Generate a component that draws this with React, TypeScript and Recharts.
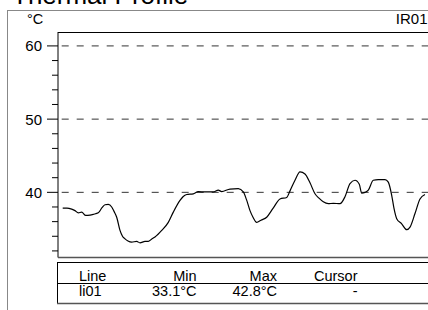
import React from "react";
import { LineChart, Line, XAxis, YAxis, ReferenceLine } from "recharts";

// Profile position (samples along line li01)
const pos = [4.7, 9, 13.7, 17, 20.3, 23.7, 27.7, 32, 35.3, 40.3, 44, 47, 50.3, 53.7, 56, 58.7, 62, 64.5, 67, 70, 73.7, 78.7, 82, 87, 90.3, 93.5, 97, 103.7, 110.3, 115.3, 122, 125, 128.7, 135.3, 140.3, 147, 155.3, 160.3, 163.7, 172, 180.3, 185.3, 188.5, 192, 195, 198.7, 203, 208.7, 215, 222, 228.7, 232, 237, 242, 247, 252, 257, 261, 265.3, 270.3, 275.3, 282, 287, 292, 297, 301.3, 303.7, 307, 310.3, 315.3, 320.3, 327, 330.3, 333.7, 336, 338.7, 343.7, 348.7, 352, 357, 362, 367];
// Temperature (°C)
const temp = [37.85, 37.85, 37.7, 37.5, 37.2, 37.3, 36.85, 36.9, 37.0, 37.2, 37.9, 38.3, 38.35, 38.0, 37.4, 36.6, 34.8, 34.0, 33.65, 33.35, 33.2, 33.3, 33.1, 33.3, 33.3, 33.6, 33.9, 34.8, 35.9, 37.3, 38.9, 39.4, 39.7, 39.8, 40.1, 40.05, 40.05, 40.3, 40.1, 40.45, 40.5, 40.05, 39.0, 37.5, 36.6, 35.9, 36.2, 36.6, 37.8, 39.1, 39.3, 40.2, 41.65, 42.8, 42.5, 41.3, 39.8, 39.2, 38.7, 38.45, 38.5, 38.45, 39.4, 41.2, 41.65, 41.1, 39.9, 40.0, 40.3, 41.65, 41.75, 41.75, 41.4, 39.6, 37.8, 36.4, 35.7, 34.9, 35.25, 37.1, 39.1, 39.7];

const yTicks = [32, 34, 36, 38, 40, 42, 44, 46, 48, 50, 52, 54, 56, 58, 60];
const majorTicks = [40, 50, 60];
const tableHeader = ["Line", "Min", "Max", "Cursor"];
const tableRow = ["li01", "33.1°C", "42.8°C", "-"];

const data = pos.map((p, i) => ({ pos: p, temp: temp[i] }));

const FONT = "'Liberation Sans', Arial, sans-serif";

const YTick = (props: any) => {
  const { x, y, payload } = props;
  const major = majorTicks.includes(payload.value);
  return (
    <g>
      <line x1={x - (major ? 11 : 6)} x2={x} y1={y} y2={y} stroke="#000" strokeWidth={1} />
      {major && (
        <text x={x - 16} y={y} dy="0.36em" textAnchor="end" fontSize={15} fontFamily={FONT} fill="#000">
          {payload.value}
        </text>
      )}
    </g>
  );
};

export default function App() {
  const colEnds = [null, 196.5, 277, 357.5];
  return (
    <div style={{ position: "absolute", left: 0, top: 0, width: 428, height: 310, overflow: "hidden", background: "#fff" }}>
      <div style={{ position: "absolute", left: 0, top: 0 }}>
        <LineChart width={440} height={310} data={data} margin={{ top: 32, left: 8, right: 7, bottom: 52.5 }}>
          <XAxis type="number" dataKey="pos" domain={[0, 375]} hide allowDataOverflow />
          <YAxis
            type="number"
            width={50}
            domain={[31.1, 61.9]}
            allowDataOverflow
            ticks={yTicks}
            interval={0}
            tickSize={0}
            tickMargin={0}
            tickLine={false}
            axisLine={{ stroke: "#000", strokeWidth: 1 }}
            tick={<YTick />}
          />
          {majorTicks.map((v) => (
            <ReferenceLine key={v} y={v} stroke="#333" strokeWidth={1} strokeDasharray="7 8" strokeDashoffset={11.3} />
          ))}
          <Line type="monotone" dataKey="temp" stroke="#000" strokeWidth={1.2} dot={false} isAnimationActive={false} />
        </LineChart>
      </div>
      <svg width={428} height={310} style={{ position: "absolute", left: 0, top: 0, pointerEvents: "none" }}>
        <text x={12} y={3.5} fontSize={26} fontFamily={FONT} fill="#000">Thermal Profile</text>
        <line x1={7.5} x2={7.5} y1={10} y2={310} stroke="#888" strokeWidth={1} />
        <line x1={7} x2={428} y1={10.5} y2={10.5} stroke="#888" strokeWidth={1} />
        <text x={27} y={23.5} fontSize={14.5} fontFamily={FONT} fill="#000">°C</text>
        <text x={427.5} y={24} fontSize={15} fontFamily={FONT} fill="#000" textAnchor="end">IR01</text>
        <line x1={58} x2={428} y1={32.5} y2={32.5} stroke="#000" strokeWidth={1} />
        <line x1={58} x2={428} y1={257.5} y2={257.5} stroke="#555" strokeWidth={1.5} />
        <line x1={57.5} x2={57.5} y1={262} y2={304} stroke="#000" strokeWidth={1} />
        <line x1={57} x2={428} y1={262.5} y2={262.5} stroke="#000" strokeWidth={1} />
        <line x1={57} x2={428} y1={283.5} y2={283.5} stroke="#000" strokeWidth={1} />
        <line x1={57} x2={428} y1={303.5} y2={303.5} stroke="#555" strokeWidth={1.5} />
        {tableHeader.map((t, i) => (
          <text key={"h" + i} x={i === 0 ? 79 : (colEnds[i] as number)} y={280.5} fontSize={14.5} fontFamily={FONT} fill="#000" textAnchor={i === 0 ? "start" : "end"}>{t}</text>
        ))}
        {tableRow.map((t, i) => (
          <text key={"r" + i} x={i === 0 ? 79 : (colEnds[i] as number)} y={296} fontSize={14.5} fontFamily={FONT} fill="#000" textAnchor={i === 0 ? "start" : "end"}>{t}</text>
        ))}
      </svg>
    </div>
  );
}
